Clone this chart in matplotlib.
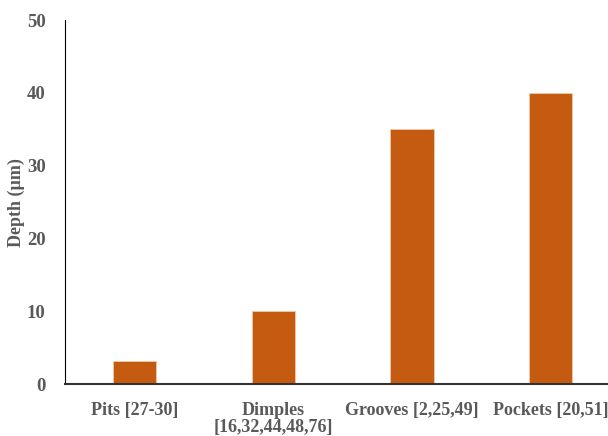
import matplotlib
matplotlib.use("Agg")
import matplotlib.pyplot as plt

# -- Data --------------------------------------------------------------------
categories = ["Pits [27-30]", "Dimples\n[16,32,44,48,76]",
              "Grooves [2,25,49]", "Pockets [20,51]"]
depths = [3.2, 10, 35, 40]

BAR = "#C55A11"
GREY = "#595959"

plt.rcParams["font.family"] = ["Liberation Serif", "DejaVu Serif"]

fig = plt.figure(figsize=(6.08, 4.36), dpi=100)
ax = fig.add_axes([0.107, 0.119, 0.913, 0.835])

x = range(len(categories))
ax.bar(x, depths, width=0.31, color=BAR, edgecolor="#F0C8A8", linewidth=0.6)

ax.set_xlim(-0.5, len(categories) - 0.5)
ax.set_ylim(0, 50)
ax.set_yticks([0, 10, 20, 30, 40, 50])
ax.set_xticks(list(x))
ax.set_xticklabels(categories, fontsize=13, fontweight="bold", color=GREY,
                   linespacing=1.0)
ax.tick_params(axis="both", length=0)
ax.tick_params(axis="y", labelsize=13.5, labelcolor=GREY, pad=14)
ax.tick_params(axis="x", pad=13)
for lab in ax.get_yticklabels():
    lab.set_fontweight("bold")

ax.set_ylabel("Depth (µm)", fontsize=13, fontweight="bold", color=GREY)
ax.yaxis.set_label_coords(-0.072, 0.5)

for s in ["top", "right"]:
    ax.spines[s].set_visible(False)
ax.spines["left"].set_color("black")
ax.spines["bottom"].set_color("#333333")
ax.spines["bottom"].set_linewidth(1.5)

fig.savefig("out.png", dpi=100)
